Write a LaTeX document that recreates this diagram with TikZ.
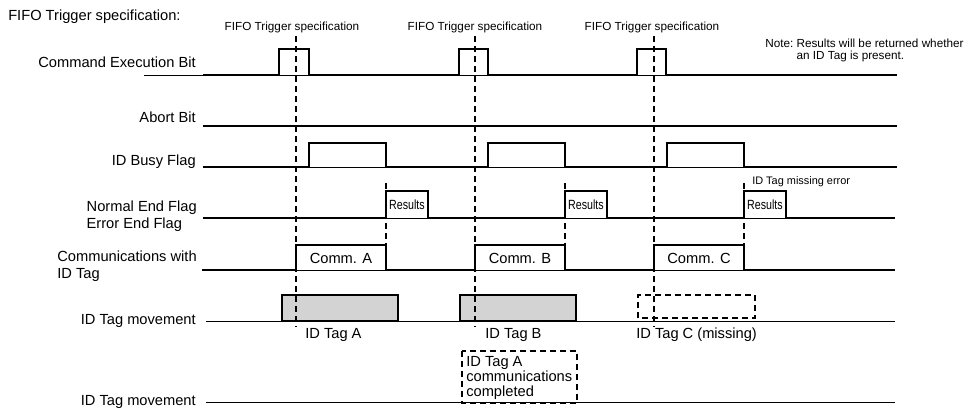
\documentclass[tikz,border=0pt]{standalone}
\usepackage{fontspec}
\setmainfont{Liberation Sans}
\usetikzlibrary{positioning}
\definecolor{tagfill}{RGB}{211,211,211}

\begin{document}
\begin{tikzpicture}[x=0.75pt,y=-0.75pt,
	sig/.style={line width=1.6pt},
	base/.style={line width=0.6pt},
	marker/.style={line width=1.5pt,dash pattern=on 4.5pt off 3pt},
	lbl/.style={font=\fontsize{11}{13}\selectfont,inner sep=0pt},
	small/.style={font=\fontsize{8.8}{9}\selectfont,inner sep=0pt}]
	
	\useasboundingbox (0,0) rectangle (970,410);
	
	\node[lbl,anchor=west] (title) at (8,17) {FIFO Trigger specification:};
	
	\foreach \y/\name/\txt in {
		62/cmd/{Command Execution Bit},
		117/abort/{Abort Bit},
		162/busy/{ID Busy Flag},
		321/move/{ID Tag movement},
		402/movetwo/{ID Tag movement}
	}
	{
		\node[lbl,anchor=east] (\name) at (196,\y) {\txt};
	}
	\node[lbl,anchor=east,align=left] (flags) at (197,216) {Normal End Flag\\Error End Flag};
	\node[lbl,anchor=east,align=left] (comm) at (197,266) {Communications with\\ID Tag};
	
	\foreach \x/\name in {292/trigA,475/trigB,652/trigC}
	{
		\node[small] (\name) at (\x,27) {FIFO Trigger specification};
	}
	\node[small,anchor=north west] (note) at (765,39) {\begin{tabular}{@{}l@{\ }l@{}}Note:&Results will be returned whether\\&an ID Tag is present.\end{tabular}};
	
	\draw[base] (144,75) -- (203,75);
	\draw[sig] (203,75) -| (279,49) -| (309,75) -| (459,49) -| (488,75) -| (637,49) -| (666,75) -- (897,75);
	\draw[sig] (203,126) -- (897,126);
	\draw[sig] (203,167) -| (309,143) -| (386,167) -| (488,143) -| (565,167) -| (667,143) -| (744,167) -- (897,167);
	\draw[sig] (203,218) -| (386,191) -| (428,218) -| (565,191) -| (607,218) -| (744,191) -| (786,218) -- (895,218);
	\draw[sig] (202,270) -| (296,245) -| (386,270) -| (475,245) -| (565,270) -| (654,245) -| (744,270) -- (895,270);
	
	\foreach \y/\a/\b in {
		75/279/309, 75/459/488, 75/637/666,
		167/309/386, 167/488/565, 167/667/744,
		218/386/428, 218/565/607, 218/744/786,
		270/296/386, 270/475/565, 270/654/744
	}
	{
		\draw[base] (\a,\y) -- (\b,\y);
	}
	
	\foreach \x/\name in {407/resA,586/resB,765/resC}
	{
		\node[inner sep=0pt,font=\fontsize{10}{10}\selectfont] (\name) at (\x,205) {\scalebox{0.8}[1]{Results}};
	}
	\node[small,anchor=west,font=\fontsize{8.2}{9}\selectfont] (missing) at (752,182) {ID Tag missing error};
	
	\foreach \x/\name/\txt in {341/commA/{Comm. A},520/commB/{Comm. B},699/commC/{Comm. C}}
	{
		\node[lbl] (\name) at (\x,258) {\txt};
	}
	
	\draw[base] (206,321) -- (895,321);
	\draw[sig,fill=tagfill] (282,321) rectangle (398,295);
	\draw[sig,fill=tagfill] (460,321) rectangle (576,295);
	\draw[marker] (638,318) rectangle (755,295);
	\draw[base] (206,402) -- (895,402);
	
	\foreach \x/\name/\txt in {305/tagA/{ID Tag A},485/tagB/{ID Tag B},636/tagC/{ID Tag C (missing)}}
	{
		\node[lbl,anchor=west] (\name) at (\x,335) {\txt};
	}
	
	\draw[marker] (462,351) rectangle (577,403);
	\node[lbl,anchor=north west,align=left,font=\fontsize{11}{11.3}\selectfont] (done) at (466,356) {ID Tag A\\communications\\completed};
	
	\foreach \x in {296,475,654}
	{
		\draw[marker] (\x,36) -- (\x,327);
	}
	\foreach \x in {386,565,744}
	{
		\draw[marker] (\x,183) -- (\x,273);
	}
	
\end{tikzpicture}
\end{document}
